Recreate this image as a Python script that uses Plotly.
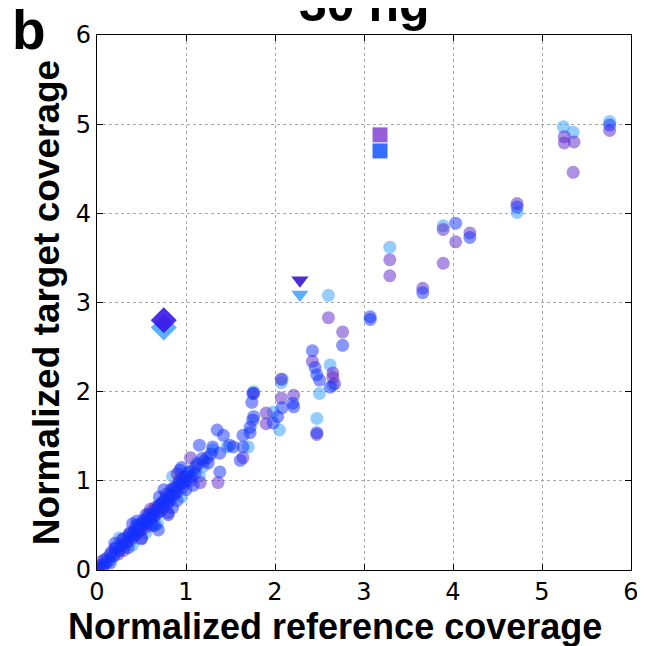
import plotly.graph_objects as go

# Series: light blue
light_x = [5.24, 5.35, 5.76, 4.72, 3.89, 3.29, 2.60, 2.62, 2.65, 2.50, 2.47, 2.07, 1.98, 2.05, 1.70, 1.46, 1.30, 1.19, 1.76, 2.08,
           0.03, 0.08, 0.12, 0.18, 0.22, 0.27, 0.31, 0.35, 0.38, 0.42, 0.45, 0.48, 0.50, 0.53, 0.57, 0.60, 0.63, 0.66, 0.70, 0.73,
           0.77, 0.80, 0.84, 0.87, 0.90, 0.94, 0.98, 1.02, 1.08, 1.12, 0.25, 0.55, 0.85, 1.15, 0.40, 0.68, 0.95]
light_y = [4.97, 4.91, 5.03, 4.01, 3.86, 3.62, 3.08, 2.30, 2.07, 1.98, 1.70, 2.10, 1.77, 1.57, 1.38, 1.38, 1.35, 1.16, 2.00, 2.14,
           0.02, 0.06, 0.14, 0.15, 0.20, 0.30, 0.26, 0.38, 0.33, 0.45, 0.40, 0.52, 0.44, 0.50, 0.60, 0.55, 0.66, 0.62, 0.72, 0.68,
           0.80, 0.76, 0.88, 0.83, 0.95, 1.02, 0.97, 1.08, 1.12, 1.20, 0.36, 0.42, 1.05, 1.05, 0.28, 0.52, 0.82]

# Series: purple
purple_x = [5.25, 5.36, 5.76, 5.35, 5.25, 4.72, 3.89, 4.19, 4.03, 3.89, 3.29, 3.29, 3.66, 2.60, 2.76, 2.42, 2.65, 2.65, 2.47, 2.07,
            2.07, 2.21, 1.90, 1.90, 1.76, 1.64, 1.05, 1.36, 1.16, 2.67,
            0.02, 0.06, 0.10, 0.15, 0.20, 0.24, 0.28, 0.33, 0.37, 0.40, 0.44, 0.47, 0.52, 0.55, 0.58, 0.62, 0.65, 0.68, 0.72, 0.75,
            0.78, 0.82, 0.86, 0.88, 0.92, 0.96, 1.00, 1.05, 1.10, 1.20, 0.30, 0.60, 0.90, 0.50, 0.80]
purple_y = [4.86, 4.80, 4.93, 4.46, 4.79, 4.11, 3.82, 3.78, 3.68, 3.44, 3.48, 3.30, 3.16, 2.83, 2.67, 2.34, 2.21, 2.16, 1.52, 2.14,
            1.93, 1.96, 1.76, 1.64, 1.98, 1.26, 1.26, 0.98, 0.98, 2.09,
            0.03, 0.10, 0.08, 0.17, 0.24, 0.18, 0.34, 0.30, 0.42, 0.36, 0.50, 0.43, 0.56, 0.48, 0.63, 0.58, 0.70, 0.64, 0.75, 0.70,
            0.85, 0.78, 0.92, 0.86, 1.00, 0.93, 1.05, 1.00, 1.15, 1.22, 0.22, 0.68, 1.08, 0.36, 0.64]

# Series: blue
blue_x = [5.76, 4.72, 4.03, 4.19, 3.66, 3.07, 3.07, 2.76, 2.42, 2.45, 2.47, 2.50, 2.62, 2.47, 2.21, 2.08, 2.03, 1.98, 1.74, 1.76,
          1.72, 1.64, 1.64, 1.53, 1.35, 1.42, 1.30, 1.49, 1.61, 1.38, 1.24, 1.38, 0.93, 0.93, 2.20, 1.75, 1.75, 1.72,
          0.01, 0.04, 0.07, 0.09, 0.13, 0.16, 0.19, 0.21, 0.25, 0.28, 0.30, 0.34, 0.36, 0.39, 0.41, 0.43, 0.46, 0.49, 0.51, 0.54,
          0.56, 0.59, 0.61, 0.64, 0.67, 0.69, 0.71, 0.74, 0.76, 0.79, 0.81, 0.83, 0.85, 0.88, 0.90, 0.95, 0.97, 1.00, 1.03, 1.06,
          1.10, 1.13, 1.18, 1.25, 1.28, 0.45, 0.75, 0.62,
          0.50, 0.55, 0.65, 0.70, 0.85, 0.95, 1.00, 0.35, 0.40, 0.20, 0.15, 0.69, 0.80, 0.90, 1.15, 1.08]
blue_y = [4.99, 4.07, 3.89, 3.73, 3.11, 2.84, 2.81, 2.52, 2.46, 2.27, 2.19, 2.13, 2.05, 1.54, 1.83, 1.82, 1.72, 1.65, 1.88, 1.72,
          1.60, 1.51, 1.38, 1.38, 1.57, 1.51, 1.38, 1.40, 1.23, 1.31, 1.26, 1.10, 1.12, 0.98, 1.87, 1.98, 1.68, 1.54,
          0.01, 0.05, 0.04, 0.12, 0.10, 0.20, 0.16, 0.25, 0.22, 0.28, 0.35, 0.32, 0.40, 0.38, 0.42, 0.39, 0.48, 0.46, 0.52, 0.55,
          0.52, 0.58, 0.62, 0.60, 0.68, 0.72, 0.66, 0.76, 0.78, 0.74, 0.82, 0.90, 0.84, 0.92, 0.88, 0.97, 1.04, 1.00, 1.10, 1.05,
          1.08, 1.18, 1.25, 1.20, 1.30, 0.55, 0.90, 0.50,
          0.35, 0.62, 0.50, 0.82, 0.70, 1.15, 0.90, 0.25, 0.52, 0.30, 0.08, 0.45, 0.62, 0.78, 1.40, 0.95]

# Highlighted outliers
diamond_x = [0.75, 0.75]
diamond_y = [2.72, 2.80]
triangle_x = [2.28, 2.28]
triangle_y = [3.09, 3.25]
square_x = [3.18, 3.18]
square_y = [4.70, 4.88]

x_ticks = [0, 1, 2, 3, 4, 5, 6]
y_ticks = [0, 1, 2, 3, 4, 5, 6]

fig = go.Figure()

def circles(x, y, color):
    fig.add_trace(go.Scatter(x=x, y=y, mode="markers", showlegend=False,
                             marker=dict(symbol="circle", size=13, color=color, opacity=0.5,
                                         line=dict(width=0))))

circles(light_x, light_y, "#2b9bff")
circles(purple_x, purple_y, "#5a22c8")
circles(blue_x, blue_y, "#1030ff")

fig.add_trace(go.Scatter(x=diamond_x, y=diamond_y, mode="markers", showlegend=False,
                         marker=dict(symbol="diamond", size=20, color=["#4aa6ff", "#3a14e8"], opacity=0.9,
                                     line=dict(width=0))))
fig.add_trace(go.Scatter(x=triangle_x, y=triangle_y, mode="markers", showlegend=False,
                         marker=dict(symbol="triangle-down", size=15, color=["#4aa6ff", "#3a14d0"], opacity=0.9,
                                     line=dict(width=0))))
fig.add_trace(go.Scatter(x=square_x, y=square_y, mode="markers", showlegend=False,
                         marker=dict(symbol="square", size=15, color=["#2a66ff", "#8f55d8"], opacity=0.95,
                                     line=dict(width=0))))

axis_common = dict(
    showline=True, linecolor="black", linewidth=1.3, mirror="ticks",
    ticks="inside", ticklen=6, tickcolor="black", tickwidth=1,
    showgrid=True, gridcolor="#a8a8a8", griddash="dot", gridwidth=1,
    zeroline=False, automargin=False,
    tickfont=dict(family="DejaVu Sans", size=24, color="black"),
)

fig.update_xaxes(range=[0, 6], tickvals=x_ticks, ticktext=[str(v) for v in x_ticks], **axis_common)
fig.update_yaxes(range=[0, 6], tickvals=y_ticks, ticktext=[str(v) for v in y_ticks],
                 title=dict(text="<b>Normalized target coverage</b>",
                            font=dict(family="Liberation Sans", size=37, color="black"), standoff=4),
                 **axis_common)

# x-axis title (placed as annotation: in the reference it sits left of the plot centre)
fig.add_annotation(text="<b>Normalized reference coverage</b>", xref="paper", yref="paper",
                   x=0.5, y=0, xshift=-29, yshift=-34, xanchor="center", yanchor="top", showarrow=False,
                   font=dict(family="Liberation Sans", size=36, color="black"))

fig.add_annotation(text="<b>30 ng</b>", xref="paper", yref="paper", x=0.5, y=1.0,
                   yshift=31, xanchor="center", yanchor="middle", showarrow=False,
                   font=dict(family="Liberation Sans", size=50, color="black"))
fig.add_annotation(text="<b>b</b>", xref="paper", yref="paper", x=0, y=1.0, xshift=-87,
                   yshift=5, xanchor="left", yanchor="middle", showarrow=False,
                   font=dict(family="Liberation Sans", size=55, color="black"))

# page body adds an 8px offset, so the figure is sized to fill the remaining window
fig.update_layout(width=637, height=638, margin=dict(l=89, r=14, t=27, b=76),
                  plot_bgcolor="white", paper_bgcolor="white")

fig.write_html("out.html")
